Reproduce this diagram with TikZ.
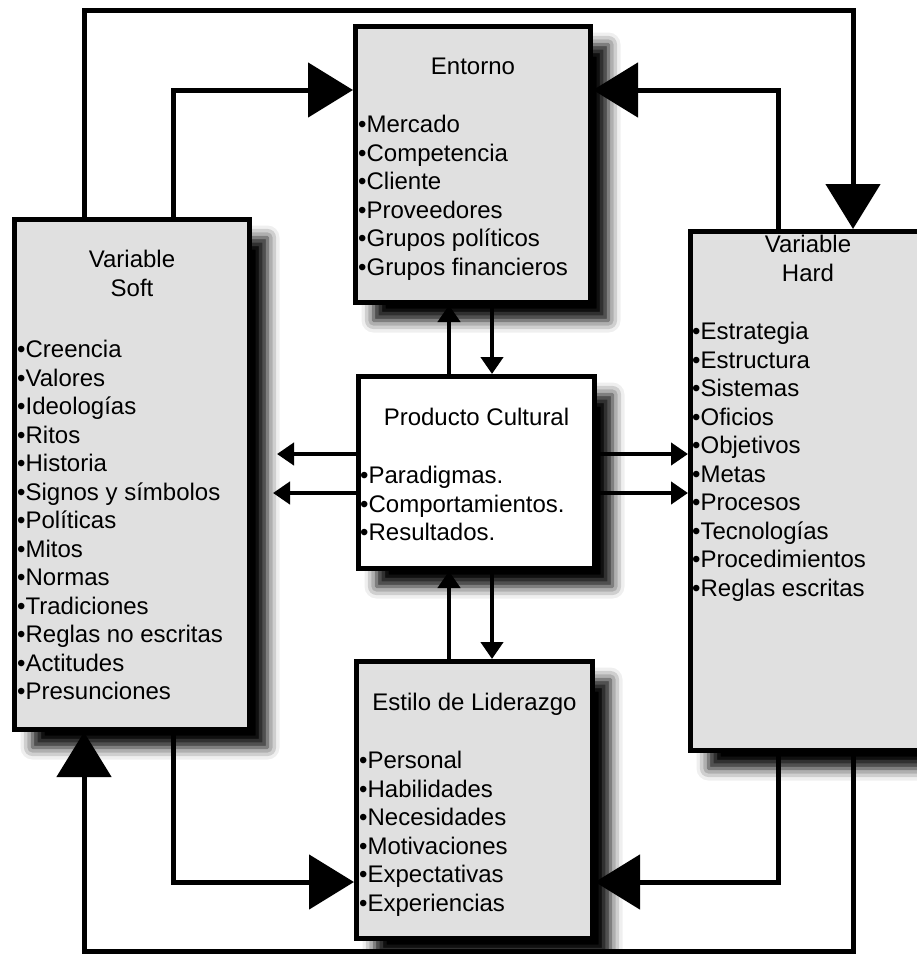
\documentclass[tikz,border=0pt]{standalone}
\usepackage{fontspec}
\setmainfont{Liberation Sans}
\usepackage{xcolor}
\usetikzlibrary{arrows.meta, positioning, shadows.blur}
\definecolor{gris}{RGB}{224,224,224}

\begin{document}
\begin{tikzpicture}[x=1pt, y=-1pt,
    boite/.style={draw, line width=5pt, fill=gris, minimum width=235pt,
        blur shadow={shadow xshift=18pt, shadow yshift=-18pt, shadow blur radius=12pt, shadow opacity=100}},
    titre/.style={inner sep=0pt, align=center, font=\fontsize{24}{28.5}\selectfont},
    liste/.style={inner sep=0pt, align=left, font=\fontsize{24}{28.5}\selectfont},
    gros/.style={line width=5pt, -{Triangle[length=45pt, width=54pt]}},
    petit/.style={line width=4.5pt, -{Triangle[length=17pt, width=22pt]}}]

    \useasboundingbox (0,0) rectangle (917,954);
    \clip (0,0) rectangle (917,954);

    % Les boîtes
    \node[boite, minimum height=276pt] (ent) at (473,164.5) {};
    \node[boite, minimum height=510pt] (soft) at (132,474.5) {};
    \node[boite, minimum height=519pt] (hard) at (808,491) {};
    \node[boite, fill=white, minimum width=236pt, minimum height=192pt] (prod) at (476.5,472.5) {};
    \node[boite, minimum width=236pt, minimum height=277pt] (sty) at (474.5,800) {};

    % Les titres
    \node[titre, below=34pt of ent.north] (entT) {Entorno};
    \node[titre, below=33pt of soft.north] (softT) {Variable\\Soft};
    \node[titre, below=6pt of hard.north] (hardT) {Variable\\Hard};
    \node[titre, below=34pt of prod.north] (prodT) {Producto Cultural};
    \node[titre, below=34pt of sty.north] (styT) {Estilo de Liderazgo};

    % Les listes
    \node[liste, below right=91pt and 5pt of ent.north west] (entL)
        {•Mercado\\•Competencia\\•Cliente\\•Proveedores\\•Grupos políticos\\•Grupos financieros};
    \node[liste, below right=123pt and 5pt of soft.north west] (softL)
        {•Creencia\\•Valores\\•Ideologías\\•Ritos\\•Historia\\•Signos y símbolos\\•Políticas\\•Mitos\\•Normas\\•Tradiciones\\•Reglas no escritas\\•Actitudes\\•Presunciones};
    \node[liste, below right=93pt and 4pt of hard.north west] (hardL)
        {•Estrategia\\•Estructura\\•Sistemas\\•Oficios\\•Objetivos\\•Metas\\•Procesos\\•Tecnologías\\•Procedimientos\\•Reglas escritas};
    \node[liste, below right=92pt and 4pt of prod.north west] (prodL)
        {•Paradigmas.\\•Comportamientos.\\•Resultados.};
    \node[liste, below right=92pt and 5pt of sty.north west] (styL)
        {•Personal\\•Habilidades\\•Necesidades\\•Motivaciones\\•Expectativas\\•Experiencias};

    % Repères des lignes
    \coordinate (xa) at (84,0);
    \coordinate (xb) at (853,0);
    \coordinate (xc) at (173,0);
    \coordinate (xd) at (778,0);
    \coordinate (xg) at (449,0);
    \coordinate (xr) at (492,0);
    \coordinate (yh) at (0,10);
    \coordinate (yb) at (0,951);
    \coordinate (yhi) at (0,90);
    \coordinate (ybi) at (0,882);
    \coordinate (ga) at (277,454);
    \coordinate (gb) at (273,493);

    % Boucles extérieures
    \draw[gros] (soft.north -| xa) |- (yh -| xb) -- (hard.north -| xb);
    \draw[gros] (hard.south -| xb) |- (yb -| xa) -- (soft.south -| xa);

    % Boucles intérieures
    \draw[gros] (soft.north -| xc) |- (ent.west |- yhi);
    \draw[gros] (hard.north -| xd) |- (ent.east |- yhi);
    \draw[gros] (soft.south -| xc) |- (sty.west |- ybi);
    \draw[gros] (hard.south -| xd) |- (sty.east |- ybi);

    % Flèches du produit culturel
    \draw[petit] (prod.north -| xg) -- (ent.south -| xg);
    \draw[petit] (ent.south -| xr) -- (prod.north -| xr);
    \draw[petit] (sty.north -| xg) -- (prod.south -| xg);
    \draw[petit] (prod.south -| xr) -- (sty.north -| xr);
    \draw[petit] (prod.west |- ga) -- (ga);
    \draw[petit] (prod.west |- gb) -- (gb);
    \draw[petit] (prod.east |- ga) -- (hard.west |- ga);
    \draw[petit] (prod.east |- gb) -- (hard.west |- gb);

\end{tikzpicture}
\end{document}
